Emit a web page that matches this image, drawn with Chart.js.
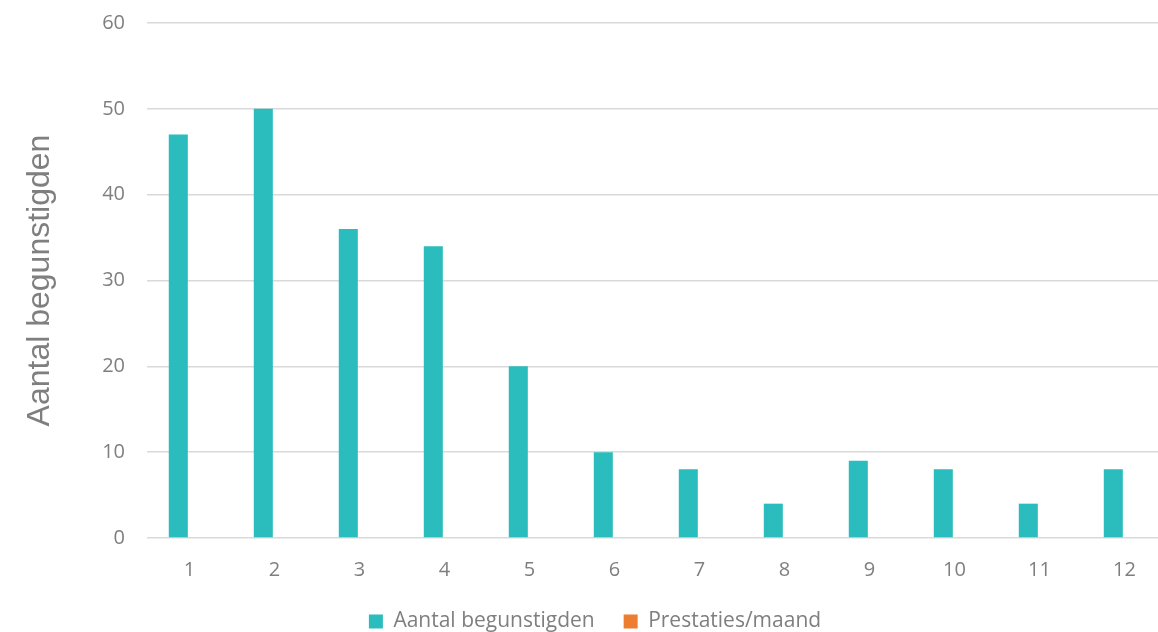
<!DOCTYPE html>
<html><head><meta charset="utf-8">
<script src="https://cdn.jsdelivr.net/npm/chart.js@4.4.0/dist/chart.umd.min.js"></script>
<style>
html,body{margin:0;padding:0;background:#fff;overflow:hidden;}
#wrap{position:relative;width:1158px;height:632px;overflow:hidden;}
</style></head><body>
<div id="wrap"><canvas id="c" width="1175" height="642"></canvas></div>
<script>
const categories = ['1','2','3','4','5','6','7','8','9','10','11','12'];
const aantalBegunstigden = [47, 50, 36, 34, 20, 10, 8, 4, 9, 8, 4, 8];
const prestatiesMaand = [0, 0, 0, 0, 0, 0, 0, 0, 0, 0, 0, 0];
const yTicks = [0, 10, 20, 30, 40, 50, 60];

const grey = '#7f7f7f';
const font = "'Open Sans', 'Noto Sans', sans-serif";

new Chart(document.getElementById('c'), {
  type: 'bar',
  data: {
    labels: categories,
    datasets: [
      { label: 'Aantal begunstigden', data: aantalBegunstigden, backgroundColor: '#2bbdbd', borderWidth: 0 },
      { label: 'Prestaties/maand', data: prestatiesMaand, backgroundColor: '#ed7d31', borderWidth: 0 }
    ]
  },
  options: {
    responsive: false,
    animation: false,
    devicePixelRatio: 1,
    datasets: { bar: { categoryPercentage: 0.527, barPercentage: 0.85 } },
    layout: { padding: { top: 23, left: 23, right: 8, bottom: 0 } },
    plugins: {
      tooltip: { enabled: false },
      legend: {
        position: 'bottom',
        labels: {
          color: grey,
          font: { family: font, size: 21 },
          boxWidth: 14, boxHeight: 14,
          padding: 29
        }
      }
    },
    scales: {
      x: {
        grid: { display: false, drawTicks: false },
        border: { display: false },
        ticks: { color: grey, font: { family: font, size: 20 }, padding: 20 },
        afterFit: s => { s.height = 44; }
      },
      y: {
        min: 0, max: 60,
        afterBuildTicks: s => { s.ticks = yTicks.map(v => ({ value: v })); },
        grid: { color: '#d9d9d9', lineWidth: 1.5, drawTicks: true, tickLength: 12, tickColor: 'rgba(0,0,0,0)' },
        border: { display: false },
        ticks: { color: grey, font: { family: font, size: 20 }, padding: 10 },
        title: { display: true, text: 'Aantal begunstigden', color: grey, font: { family: "'Liberation Sans', Arial, sans-serif", size: 32, lineHeight: 1.1 }, padding: { top: 0, bottom: 0 } },
        afterFit: s => { s.width = 124; }
      }
    }
  }
});
</script>
</body></html>
